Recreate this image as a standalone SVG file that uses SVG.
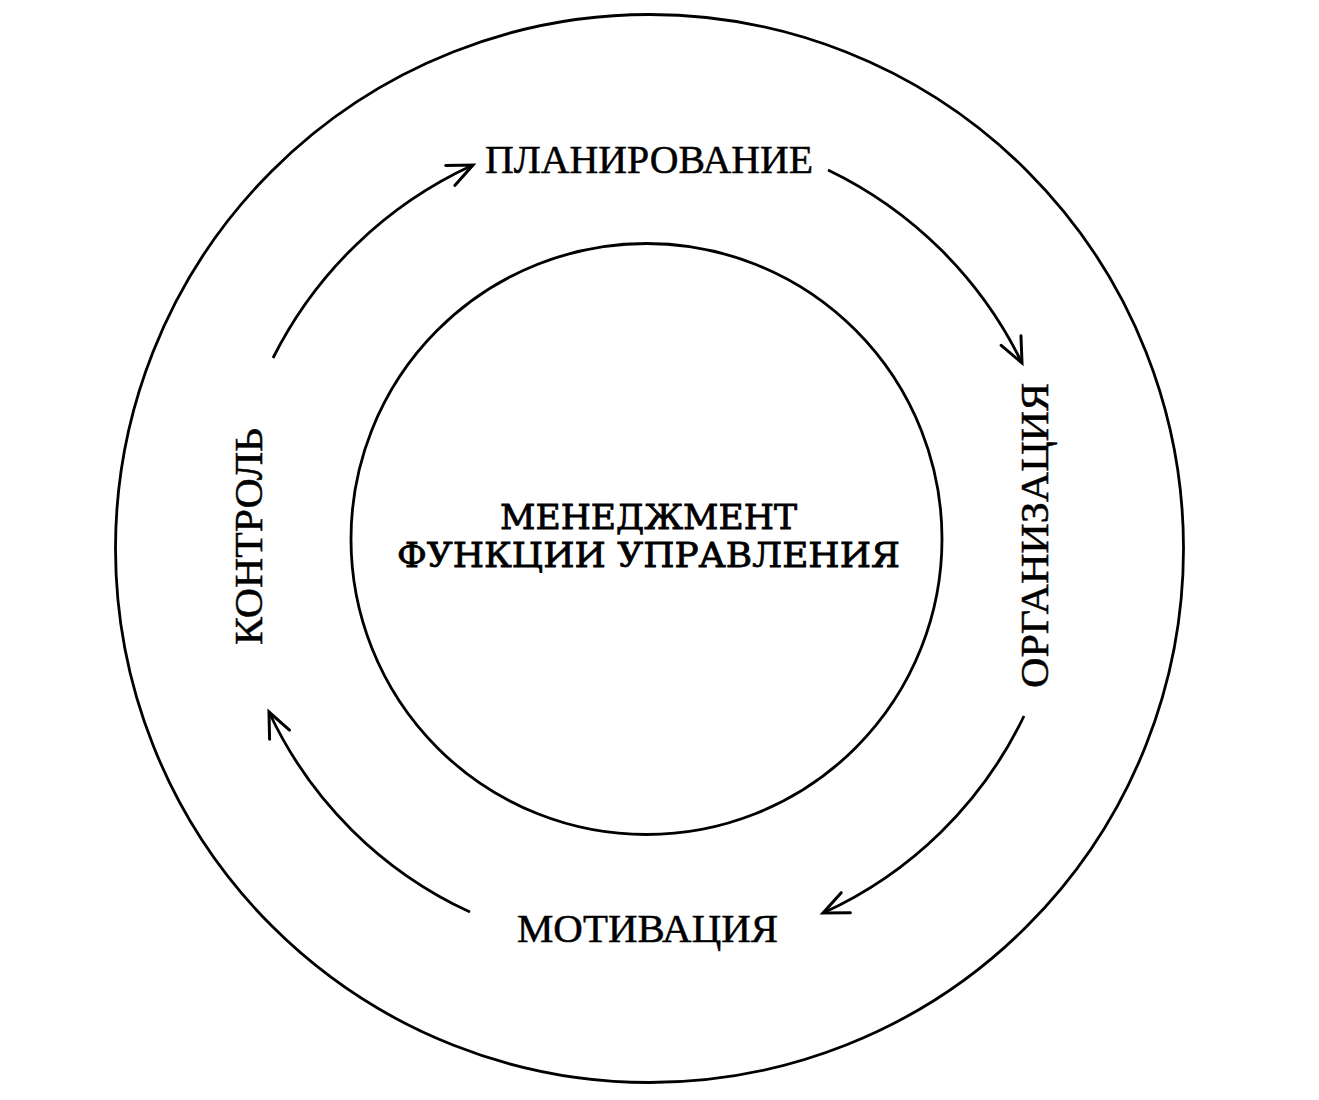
<svg xmlns="http://www.w3.org/2000/svg" width="1319" height="1100" viewBox="0 0 1319 1100">
  <style>
    .ring { fill: none; stroke: #000; stroke-width: 2.8; }
    .conn { fill: none; stroke: #000; stroke-width: 2.8; }
    .lbl { font-family: "Liberation Serif", "Times New Roman", serif; fill: #000; stroke: #000; stroke-width: 0.5; text-anchor: middle; }
    .ctr { font-family: "DejaVu Serif", "Liberation Serif", serif; fill: #000; stroke: #000; stroke-width: 0.8; text-anchor: middle; font-size: 34px; }
  </style>
  <defs>
    <marker id="arr" markerUnits="userSpaceOnUse" markerWidth="40" markerHeight="40" refX="0" refY="0" viewBox="-30 -20 40 40" orient="auto" overflow="visible">
      <path d="M -25,-11 L 0,0 L -25,11" fill="none" stroke="#000" stroke-width="3" stroke-linecap="round" stroke-linejoin="miter"/>
    </marker>
  </defs>
  <rect width="1319" height="1100" fill="#fff"/>
  <g id="outer-circle">
    <circle class="ring" cx="649.5" cy="548.5" r="534"/>
  </g>
  <g id="center">
    <circle class="ring" cx="646.5" cy="539" r="295.5"/>
    <text class="ctr" x="648.5" y="529" textLength="297" lengthAdjust="spacingAndGlyphs">МЕНЕДЖМЕНТ</text>
    <text class="ctr" x="648.5" y="567" textLength="503" lengthAdjust="spacingAndGlyphs">ФУНКЦИИ УПРАВЛЕНИЯ</text>
  </g>
  <g id="planning">
    <text class="lbl" x="649" y="173" font-size="39" textLength="328" lengthAdjust="spacingAndGlyphs">ПЛАНИРОВАНИЕ</text>
  </g>
  <g id="organization">
    <text class="lbl" transform="translate(1048,535.5) rotate(-90)" x="0" y="0" font-size="39" textLength="305" lengthAdjust="spacingAndGlyphs">ОРГАНИЗАЦИЯ</text>
  </g>
  <g id="motivation">
    <text class="lbl" x="647.5" y="942" font-size="40" textLength="261" lengthAdjust="spacingAndGlyphs">МОТИВАЦИЯ</text>
  </g>
  <g id="control">
    <text class="lbl" transform="translate(262,536.5) rotate(-90)" x="0" y="0" font-size="39" textLength="217" lengthAdjust="spacingAndGlyphs">КОНТРОЛЬ</text>
  </g>
  <g id="connectors">
    <path class="conn" d="M 273,358 A 418,418 0 0 1 473,165" marker-end="url(#arr)"/>
    <path class="conn" d="M 828,170 A 416,416 0 0 1 1022,363" marker-end="url(#arr)"/>
    <path class="conn" d="M 1024,716 A 412,412 0 0 1 823,913" marker-end="url(#arr)"/>
    <path class="conn" d="M 470,912 A 411,411 0 0 1 269,712" marker-end="url(#arr)"/>
  </g>
</svg>
